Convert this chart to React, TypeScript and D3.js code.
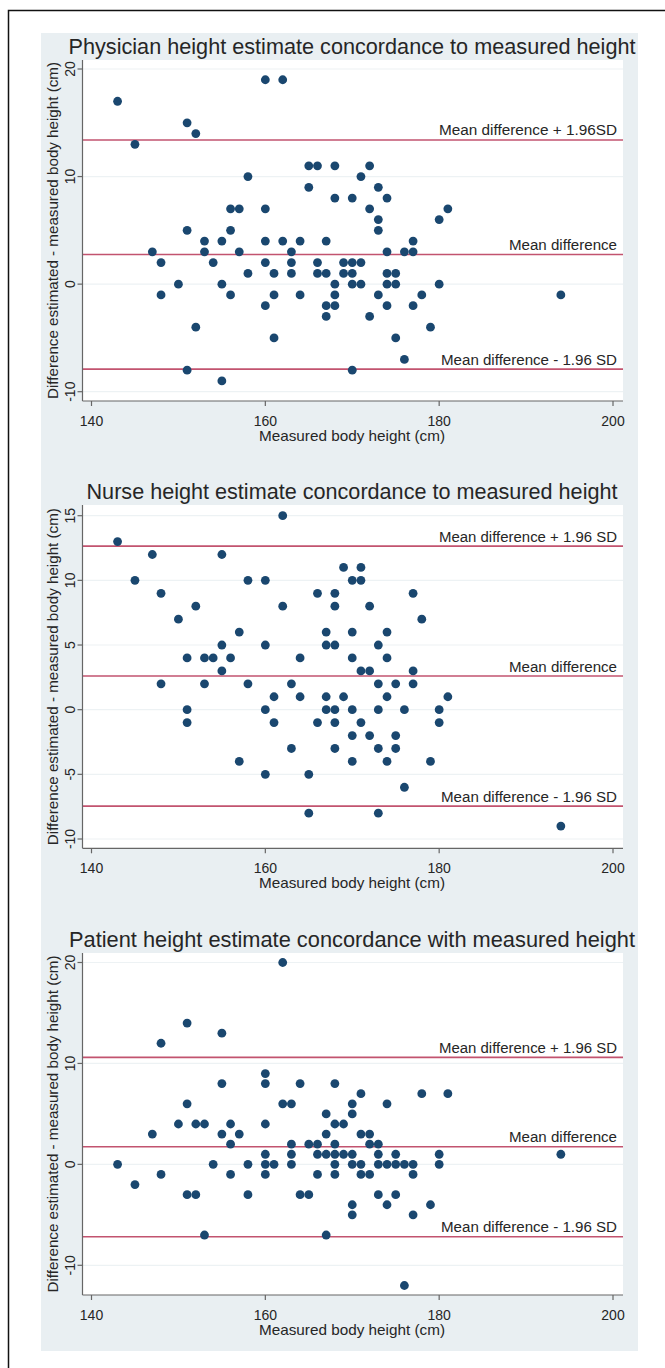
import React, { useEffect, useRef } from 'react';
import * as d3 from 'd3';

type Pt = [number, number];

const xTicks = [140, 160, 180, 200];

const titles = [
    "Physician height estimate concordance to measured height",
    "Nurse height estimate concordance to measured height",
    "Patient height estimate concordance with measured height",
];

const physicianTicks = [-10, 0, 10, 20];
const nurseTicks = [-10, -5, 0, 5, 10, 15];
const patientTicks = [-10, 0, 10, 20];

// upper limit, mean difference, lower limit
const physicianLimits = [13.4, 2.75, -7.9];
const nurseLimits = [12.65, 2.6, -7.46];
const patientLimits = [10.6, 1.75, -7.17];

const physicianLabels = ["Mean difference + 1.96SD", "Mean difference", "Mean difference - 1.96 SD"];
const nursePatientLabels = ["Mean difference + 1.96 SD", "Mean difference", "Mean difference - 1.96 SD"];

// [measured height, estimated - measured]
const physicianData: Pt[] = [
    [143, 17], [145, 13], [151, 15], [152, 14], [160, 19], [162, 19], [158, 10],
    [147, 3], [148, 2], [148, -1], [150, 0], [151, 5], [152, -4], [151, -8],
    [153, 4], [153, 3], [154, 2], [155, 4], [155, 0], [155, -9], [156, 7],
    [157, 7], [156, 5], [157, 3], [156, -1], [158, 1], [160, 7], [160, 4],
    [160, 2], [160, -2], [161, 1], [161, -1], [161, -5], [162, 4], [163, 3],
    [163, 2], [163, 1], [164, 4], [164, -1], [165, 11], [166, 11], [165, 9],
    [167, 4], [166, 2], [166, 1], [167, 1], [167, -2], [167, -3], [168, 11],
    [168, 8], [168, 0], [168, -1], [168, -2],
    [172, 11], [171, 10], [173, 9], [170, 8], [174, 8], [172, 7], [181, 7],
    [173, 6], [180, 6], [173, 5], [177, 4], [174, 3], [176, 3], [177, 3],
    [169, 2], [170, 2], [171, 2], [169, 1], [170, 1], [174, 1], [175, 1],
    [170, 0], [171, 0], [174, 0], [175, 0], [180, 0], [173, -1], [178, -1],
    [194, -1], [174, -2], [177, -2], [172, -3], [179, -4], [175, -5], [176, -7],
    [170, -8],
];

const nurseData: Pt[] = [
    [143, 13], [145, 10], [147, 12], [148, 9], [148, 2], [150, 7], [152, 8],
    [151, 4], [151, 0], [151, -1], [153, 4], [154, 4], [153, 2], [155, 12],
    [155, 5], [155, 3], [156, 4], [157, 6], [157, -4], [158, 10], [158, 2],
    [160, 10], [160, 5], [160, 0], [160, -5], [161, 1], [161, -1], [162, 15],
    [162, 8], [163, 2], [163, -3], [164, 4], [164, 1], [165, -5], [165, -8],
    [166, 9], [166, -1], [167, 6], [167, 5], [167, 1], [167, 0], [168, 9],
    [168, 8], [168, 5], [168, 0], [168, -1], [168, -3],
    [169, 11], [171, 11], [170, 10], [171, 10], [172, 8], [177, 9], [178, 7],
    [170, 6], [174, 6], [173, 5], [170, 4], [174, 4], [171, 3], [172, 3],
    [177, 3], [173, 2], [175, 2], [177, 2], [169, 1], [174, 1], [181, 1],
    [170, 0], [173, 0], [176, 0], [180, 0], [171, -1], [180, -1], [170, -2],
    [172, -2], [175, -2], [173, -3], [175, -3], [170, -4], [174, -4], [179, -4],
    [176, -6], [173, -8], [194, -9],
];

const patientData: Pt[] = [
    [162, 20], [151, 14], [155, 13], [148, 12], [160, 9], [160, 8], [155, 8],
    [164, 8], [168, 8], [151, 6], [162, 6], [163, 6], [150, 4], [152, 4],
    [153, 4], [156, 4], [160, 4], [167, 5], [168, 4], [147, 3], [155, 3],
    [157, 3], [167, 3], [156, 2], [163, 2], [165, 2], [166, 2], [168, 2],
    [160, 1], [163, 1], [166, 1], [167, 1], [168, 1], [143, 0], [154, 0],
    [158, 0], [160, 0], [161, 0], [163, 0], [168, 0], [148, -1], [156, -1],
    [160, -1], [166, -1], [168, -1], [145, -2], [151, -3], [152, -3], [158, -3],
    [164, -3], [165, -3], [153, -7], [167, -7],
    [171, 7], [178, 7], [181, 7], [174, 6], [170, 6], [170, 5], [169, 4],
    [171, 3], [172, 3], [172, 2], [173, 2], [169, 1], [170, 1], [173, 1],
    [175, 1], [180, 1], [194, 1], [170, 0], [171, 0], [173, 0], [174, 0],
    [175, 0], [176, 0], [177, 0], [180, 0], [171, -1], [172, -1], [177, -1],
    [173, -3], [175, -3], [170, -4], [174, -4], [179, -4], [170, -5], [177, -5],
    [176, -12],
];

const FONT = '"Liberation Sans", Arial, sans-serif';
const NAVY = '#1a476f';
const LINE = '#c2536f';
const TEXT = '#262626';

// pixel layout of each panel (title baseline, plot top/bottom, pixel of first/last tick)
const layouts = [
    { titleY: 54, titleLen: 567, top: 60, bottom: 401, tickPx: [391.7, 69] },
    { titleY: 499, titleLen: 531, top: 505, bottom: 848.3, tickPx: [839, 515.7] },
    { titleY: 946.5, titleLen: 566, top: 953, bottom: 1295, tickPx: [1265.3, 962.5] },
];

const App: React.FC = () => {
    const svgRef = useRef<SVGSVGElement>(null);

    useEffect(() => {
        if (!svgRef.current) return;
        const svg = d3.select(svgRef.current);
        svg.selectAll("*").remove();

        const left = 82.5;
        const right = 623;

        // outer frame and graph region
        svg.append("rect")
            .attr("x", 8.5).attr("y", 10.5)
            .attr("width", 700).attr("height", 1400)
            .attr("fill", "white").attr("stroke", "#111").attr("stroke-width", 1.5);
        svg.append("rect")
            .attr("x", 41).attr("y", 33)
            .attr("width", 597).attr("height", 1318)
            .attr("fill", "#e9eff2");

        const panels = [
            { title: titles[0], data: physicianData, ticks: physicianTicks, limits: physicianLimits, labels: physicianLabels },
            { title: titles[1], data: nurseData, ticks: nurseTicks, limits: nurseLimits, labels: nursePatientLabels },
            { title: titles[2], data: patientData, ticks: patientTicks, limits: patientLimits, labels: nursePatientLabels },
        ];

        const x = d3.scaleLinear().domain([140, 200]).range([91.5, 613]);

        panels.forEach((p, i) => {
            const lay = layouts[i];
            const y = d3.scaleLinear()
                .domain([p.ticks[0], p.ticks[p.ticks.length - 1]])
                .range(lay.tickPx);
            const g = svg.append("g");

            // title
            g.append("text")
                .attr("x", 352 - lay.titleLen / 2)
                .attr("y", lay.titleY)
                .attr("textLength", lay.titleLen)
                .attr("lengthAdjust", "spacingAndGlyphs")
                .attr("font-family", FONT)
                .attr("font-size", 21.5)
                .attr("fill", TEXT)
                .text(p.title);

            // plot region
            g.append("rect")
                .attr("x", left).attr("y", lay.top)
                .attr("width", right - left).attr("height", lay.bottom - lay.top)
                .attr("fill", "white");

            // grid lines
            g.append("g")
                .selectAll("line")
                .data(p.ticks)
                .join("line")
                .attr("x1", left).attr("x2", right)
                .attr("y1", d => y(d)).attr("y2", d => y(d))
                .attr("stroke", "#edf2f4").attr("stroke-width", 1.2);

            // reference lines
            g.append("g")
                .selectAll("line")
                .data(p.limits)
                .join("line")
                .attr("x1", left).attr("x2", right)
                .attr("y1", d => y(d)).attr("y2", d => y(d))
                .attr("stroke", LINE).attr("stroke-width", 1.6);

            const labelLens = [178, 108, 176];
            g.append("g")
                .selectAll("text")
                .data(p.limits)
                .join("text")
                .attr("x", (d, k) => 617 - labelLens[k])
                .attr("y", d => y(d) - 4.5)
                .attr("textLength", (d, k) => labelLens[k])
                .attr("lengthAdjust", "spacingAndGlyphs")
                .attr("font-family", FONT)
                .attr("font-size", 14)
                .attr("fill", TEXT)
                .text((d, k) => p.labels[k]);

            // points
            g.append("g")
                .selectAll("circle")
                .data(p.data)
                .join("circle")
                .attr("cx", d => x(d[0]))
                .attr("cy", d => y(d[1]))
                .attr("r", 4.4)
                .attr("fill", NAVY);

            // y axis
            g.append("line")
                .attr("x1", left).attr("x2", left)
                .attr("y1", lay.top).attr("y2", lay.bottom)
                .attr("stroke", "#666").attr("stroke-width", 1.2);
            g.append("g")
                .selectAll("line")
                .data(p.ticks)
                .join("line")
                .attr("x1", left - 5).attr("x2", left)
                .attr("y1", d => y(d)).attr("y2", d => y(d))
                .attr("stroke", "#666").attr("stroke-width", 1.2);
            g.append("g")
                .selectAll("text")
                .data(p.ticks)
                .join("text")
                .attr("transform", d => `translate(75,${y(d)}) rotate(-90)`)
                .attr("text-anchor", "middle")
                .attr("font-family", FONT)
                .attr("font-size", 14)
                .attr("fill", TEXT)
                .text(d => d);
            const midY = (lay.top + lay.bottom) / 2;
            g.append("text")
                .attr("transform", `translate(58,${midY + 337 / 2}) rotate(-90)`)
                .attr("textLength", 337)
                .attr("lengthAdjust", "spacingAndGlyphs")
                .attr("font-family", FONT)
                .attr("font-size", 14.5)
                .attr("fill", TEXT)
                .text("Difference estimated - measured body height (cm)");

            // x axis
            g.append("line")
                .attr("x1", left).attr("x2", right)
                .attr("y1", lay.bottom).attr("y2", lay.bottom)
                .attr("stroke", "#666").attr("stroke-width", 1.2);
            g.append("g")
                .selectAll("line")
                .data(xTicks)
                .join("line")
                .attr("x1", d => x(d)).attr("x2", d => x(d))
                .attr("y1", lay.bottom).attr("y2", lay.bottom + 5)
                .attr("stroke", "#666").attr("stroke-width", 1.2);
            g.append("g")
                .selectAll("text")
                .data(xTicks)
                .join("text")
                .attr("x", d => x(d))
                .attr("y", lay.bottom + 24.5)
                .attr("text-anchor", "middle")
                .attr("font-family", FONT)
                .attr("font-size", 14)
                .attr("fill", TEXT)
                .text(d => d);
            g.append("text")
                .attr("x", 352 - 93)
                .attr("y", lay.bottom + 40)
                .attr("textLength", 186)
                .attr("lengthAdjust", "spacingAndGlyphs")
                .attr("font-family", FONT)
                .attr("font-size", 14.5)
                .attr("fill", TEXT)
                .text("Measured body height (cm)");
        });
    }, []);

    return (
        <svg
            ref={svgRef}
            width={665}
            height={1368}
            style={{ position: 'absolute', left: 0, top: 0, display: 'block' }}
        />
    );
};

export default App;
